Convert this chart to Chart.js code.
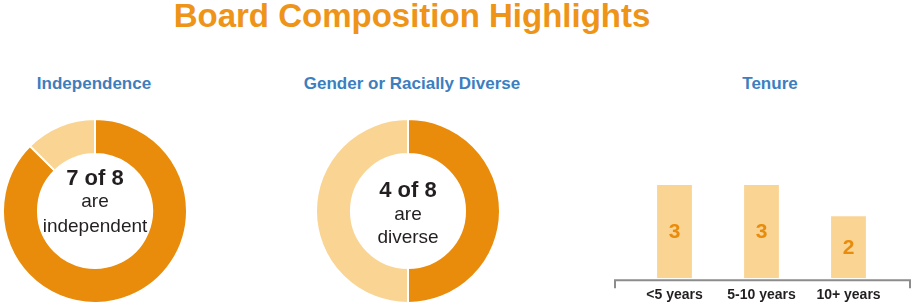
<!DOCTYPE html>
<html>
<head>
<meta charset="utf-8">
<script src="https://cdn.jsdelivr.net/npm/chart.js@4/dist/chart.umd.min.js"></script>
<style>
  body { margin: 0; width: 914px; height: 306px; overflow: hidden; background: #fff; position: relative;
         font-family: "Liberation Sans", Arial, sans-serif; }
  .title { position: absolute; top: 0; left: 412px; transform: translateX(-50%); white-space: nowrap;
           font-size: 33px; line-height: 32px; font-weight: bold; color: #EE9418; }
  .sub { position: absolute; top: 75px; transform: translateX(-50%); white-space: nowrap;
         font-size: 17px; line-height: 17px; font-weight: bold; color: #3C7EBE; }
  canvas { position: absolute; }
</style>
</head>
<body>
<div class="title">Board Composition Highlights</div>
<div class="sub" style="left:94px">Independence</div>
<div class="sub" style="left:412px">Gender or Racially Diverse</div>
<div class="sub" style="left:770px">Tenure</div>

<canvas id="indep" style="left:2px; top:118px; width:186px; height:186px"></canvas>
<canvas id="diverse" style="left:315px; top:118px; width:186px; height:186px"></canvas>
<canvas id="tenure" style="left:600px; top:60px; width:314px; height:260px"></canvas>

<script>
var donutLabels = ['Yes', 'No'];
var independence = [7, 1];
var diverse = [4, 4];
var independenceText = ['7 of 8', 'are', 'independent'];
var diverseText = ['4 of 8', 'are', 'diverse'];
var tenureLabels = ['<5 years', '5-10 years', '10+ years'];
var tenureCounts = [3, 3, 2];

var orange = '#E98B0B';
var light = '#FAD493';
var dark = '#231F20';

// writes the lines in the middle of a doughnut
var centerText = {
    id: 'centerText',
    afterDraw: function(chart, args, opts) {
        var ctx = chart.ctx;
        var meta = chart.getDatasetMeta(0).data[0];
        ctx.save();
        ctx.fillStyle = dark;
        ctx.textAlign = 'center';
        ctx.textBaseline = 'alphabetic';
        for (var i = 0; i < opts.lines.length; i++) {
            ctx.font = (i == 0 ? 'bold 22px' : '19px') + ' "Liberation Sans", Arial, sans-serif';
            ctx.fillText(opts.lines[i], meta.x, meta.y + opts.offsets[i]);
        }
        ctx.restore();
    }
};

function donut(id, values, lines, offsets) {
    new Chart(document.getElementById(id), {
        type: 'doughnut',
        data: {
            labels: donutLabels,
            datasets: [{
                data: values,
                backgroundColor: [orange, light],
                borderColor: '#fff',
                borderWidth: 2
            }]
        },
        options: {
            responsive: false,
            animation: false,
            cutout: '62%',
            events: [],
            plugins: {
                legend: { display: false },
                tooltip: { enabled: false },
                centerText: { lines: lines, offsets: offsets }
            }
        },
        plugins: [centerText]
    });
}

donut('indep', independence, independenceText, [-26, -4, 21]);
donut('diverse', diverse, diverseText, [-14, 9, 32]);

// value in the middle of each bar
var barValues = {
    id: 'barValues',
    afterDatasetsDraw: function(chart) {
        var ctx = chart.ctx;
        var ds = chart.data.datasets[0];
        ctx.save();
        ctx.fillStyle = orange;
        ctx.font = 'bold 21px "Liberation Sans", Arial, sans-serif';
        ctx.textAlign = 'center';
        ctx.textBaseline = 'middle';
        chart.getDatasetMeta(0).data.forEach(function(bar, i) {
            ctx.fillText(ds.data[i], bar.x, (bar.y + bar.base) / 2 + 1);
        });
        ctx.restore();
    }
};

// bracket shaped baseline under the bars
var baseLine = {
    id: 'baseLine',
    afterDraw: function(chart) {
        var ctx = chart.ctx;
        var a = chart.chartArea;
        var y = a.bottom + 2;
        ctx.save();
        ctx.strokeStyle = '#8C8C8C';
        ctx.lineWidth = 2;
        ctx.beginPath();
        ctx.moveTo(a.left - 16, y + 8);
        ctx.lineTo(a.left - 16, y);
        ctx.lineTo(a.right + 18, y);
        ctx.lineTo(a.right + 18, y + 8);
        ctx.stroke();
        ctx.restore();
    }
};

new Chart(document.getElementById('tenure'), {
    type: 'bar',
    data: {
        labels: tenureLabels,
        datasets: [{
            data: tenureCounts,
            backgroundColor: light,
            barPercentage: 0.4,
            categoryPercentage: 1
        }]
    },
    options: {
        responsive: false,
        animation: false,
        events: [],
        layout: { padding: { left: 31, right: 22, top: 32, bottom: 7 } },
        scales: {
            x: {
                grid: { display: false, drawTicks: false },
                border: { display: false },
                ticks: {
                    padding: 9,
                    color: dark,
                    font: { family: '"Liberation Sans", Arial, sans-serif', size: 14, weight: 'bold' }
                }
            },
            y: { display: false, min: 0, max: 6 }
        },
        plugins: {
            legend: { display: false },
            tooltip: { enabled: false }
        }
    },
    plugins: [barValues, baseLine]
});
</script>
</body>
</html>
